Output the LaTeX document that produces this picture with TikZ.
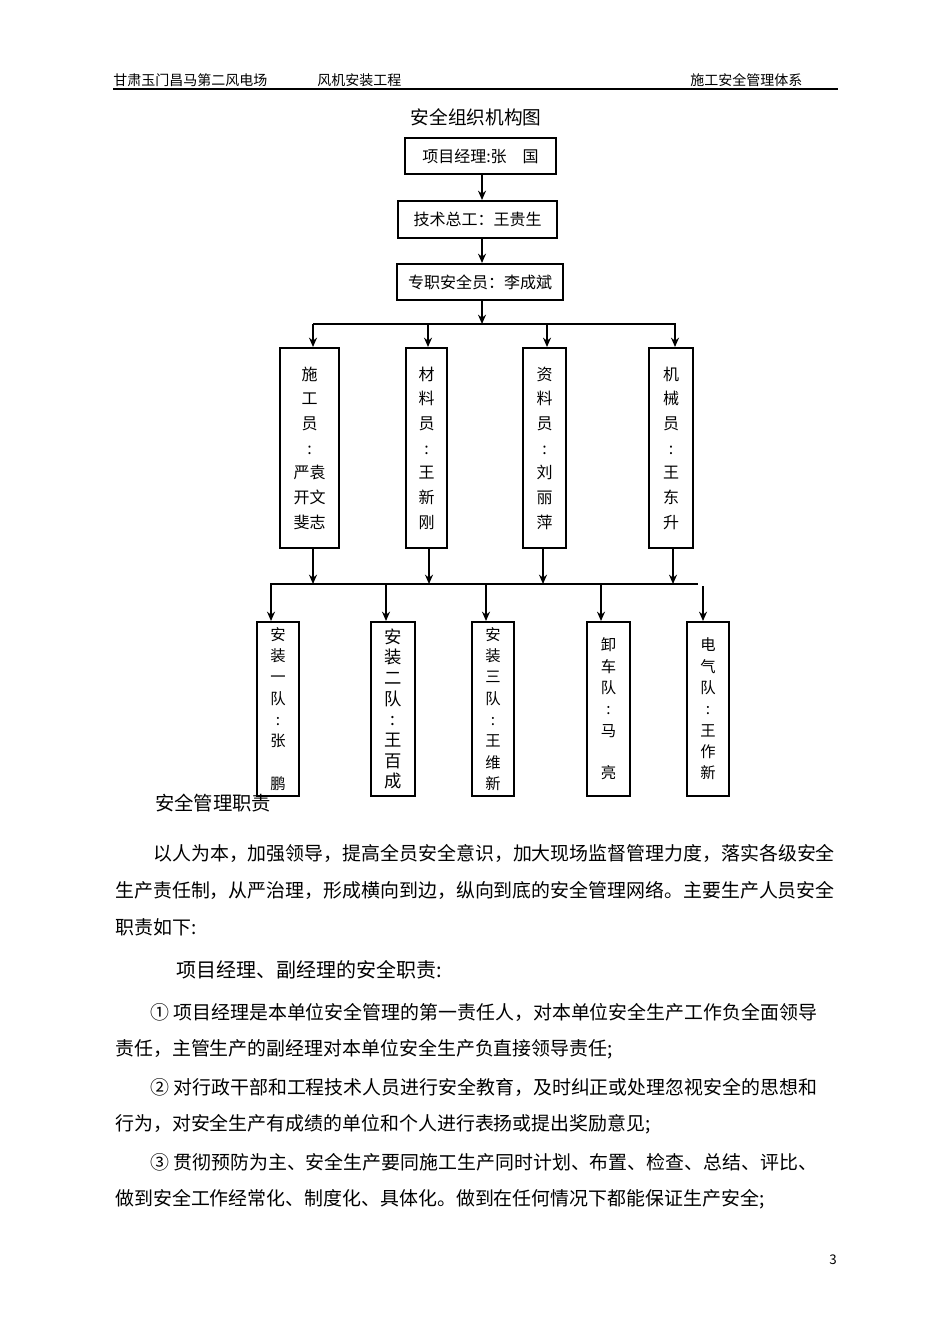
\documentclass[tikz,border=0pt]{standalone}
\usepackage{fontspec}
\setmainfont{Noto Sans CJK SC}
\usetikzlibrary{arrows.meta}
\begin{document}
\begin{tikzpicture}[x=0.75pt,y=-0.75pt,
  hbox/.style={draw,line width=1.5pt,font=\fontsize{12}{14}\selectfont,inner sep=0pt},
  vbox/.style={draw,line width=1.5pt,align=center,inner sep=0pt,font=\fontsize{12}{18.5}\selectfont},
  wbox/.style={draw,line width=1.5pt,align=center,inner sep=0pt,font=\fontsize{11.5}{16}\selectfont},
  arr/.style={line width=1.5pt,-{Stealth[length=7pt,width=6pt]}},
  ln/.style={line width=1.5pt},
  body/.style={anchor=west,font=\fontsize{14.2}{16}\selectfont,inner sep=0pt}]
\useasboundingbox[fill=white] (0,0) rectangle (950,1344);
% header
\node[anchor=west,font=\fontsize{10.5}{12}\selectfont,inner sep=0pt] (h1) at (113,80) {甘肃玉门昌马第二风电场};
\node[anchor=west,font=\fontsize{10.5}{12}\selectfont,inner sep=0pt] (h2) at (317,80) {风机安装工程};
\node[anchor=west,font=\fontsize{10.5}{12}\selectfont,inner sep=0pt] (h3) at (690,80) {施工安全管理体系};
\draw[line width=1pt] (113,89) -- (838,89);
\node[font=\fontsize{14}{16}\selectfont,inner sep=0pt] (title) at (476,117) {安全组织机构图};
% top boxes
\node[hbox,minimum width=113.25pt,minimum height=27pt] (b1) at (480.5,156) {项目经理:张　国};
\node[hbox,minimum width=119.25pt,minimum height=27.75pt] (b2) at (477.5,219.5) {技术总工：王贵生};
\node[hbox,minimum width=124.5pt,minimum height=27pt] (b3) at (480,282) {专职安全员：李成斌};
\draw[arr] (b1.south -| 482,0) -- (b2.north -| 482,0);
\draw[arr] (b2.south -| 482,0) -- (b3.north -| 482,0);
\coordinate (bus1) at (482,324);
\draw[arr] (b3.south -| 482,0) -- (bus1);
\draw[ln] (313,324) -- (676,324);
% middle boxes
\node[vbox,minimum width=44.25pt,minimum height=150pt] (m1) at (309.5,448) {施\\工\\员\\:\\严袁\\开文\\斐志};
\node[vbox,minimum width=30.75pt,minimum height=150pt] (m2) at (426.5,448) {材\\料\\员\\:\\王\\新\\刚};
\node[vbox,minimum width=32.25pt,minimum height=150pt] (m3) at (544.5,448) {资\\料\\员\\:\\刘\\丽\\萍};
\node[vbox,minimum width=33pt,minimum height=150pt] (m4) at (671,448) {机\\械\\员\\:\\王\\东\\升};
\foreach \n/\x in {m1/313,m2/428,m3/547,m4/675}{
  \draw[arr] (\x,324) -- (\n.north -| \x,0);
}
\draw[ln] (270,584) -- (698,584);
\foreach \n/\x in {m1/313,m2/429,m3/543,m4/673}{
  \draw[arr] (\n.south -| \x,0) -- (\x,584);
}
% bottom boxes
\node[wbox,minimum width=31.5pt,minimum height=130.5pt] (t1) at (278,709) {安\\装\\一\\队\\:\\张\\\\鹏};
\node[wbox,minimum width=33pt,minimum height=130.5pt,font=\fontsize{13}{15.5}\selectfont] (t2) at (393,709) {安\\装\\二\\队\\:\\王\\百\\成};
\node[wbox,minimum width=31.5pt,minimum height=130.5pt] (t3) at (493,709) {安\\装\\三\\队\\:\\王\\维\\新};
\node[wbox,minimum width=32.25pt,minimum height=130.5pt] (t4) at (608.5,709) {卸\\车\\队\\:\\马\\\\亮};
\node[wbox,minimum width=31.5pt,minimum height=130.5pt] (t5) at (708,709) {电\\气\\队\\:\\王\\作\\新};
\foreach \n/\x in {t1/271,t2/386,t3/486,t4/601}{
  \draw[arr] (\x,584) -- (\n.north -| \x,0);
}
\draw[arr] (703,586) -- (t5.north -| 703,0);
% text
\node[anchor=west,font=\fontsize{14.5}{16}\selectfont,inner sep=0pt] (s1) at (155,803) {安全管理职责};
\node[body] (p1) at (153,853) {以人为本，加强领导，提高全员安全意识，加大现场监督管理力度，落实各级安全};
\node[body] (p2) at (115,890) {生产责任制，从严治理，形成横向到边，纵向到底的安全管理网络。主要生产人员安全};
\node[body] (p3) at (115,927) {职责如下:};
\node[anchor=west,font=\fontsize{15}{16}\selectfont,inner sep=0pt] (s2) at (176,970) {项目经理、副经理的安全职责:};
\node[body] (q1) at (150,1012) {①\ 项目经理是本单位安全管理的第一责任人，对本单位安全生产工作负全面领导};
\node[body] (q2) at (115,1049) {责任，主管生产的副经理对本单位安全生产负直接领导责任;};
\node[body] (q3) at (150,1087) {②\ 对行政干部和工程技术人员进行安全教育，及时纠正或处理忽视安全的思想和};
\node[body] (q4) at (115,1124) {行为，对安全生产有成绩的单位和个人进行表扬或提出奖励意见;};
\node[body] (q5) at (150,1162) {③\ 贯彻预防为主、安全生产要同施工生产同时计划、布置、检查、总结、评比、};
\node[body] (q6) at (115,1199) {做到安全工作经常化、制度化、具体化。做到在任何情况下都能保证生产安全;};
\node[font=\fontsize{10}{12}\selectfont,inner sep=0pt] (pg) at (833,1260) {3};
\end{tikzpicture}
\end{document}
